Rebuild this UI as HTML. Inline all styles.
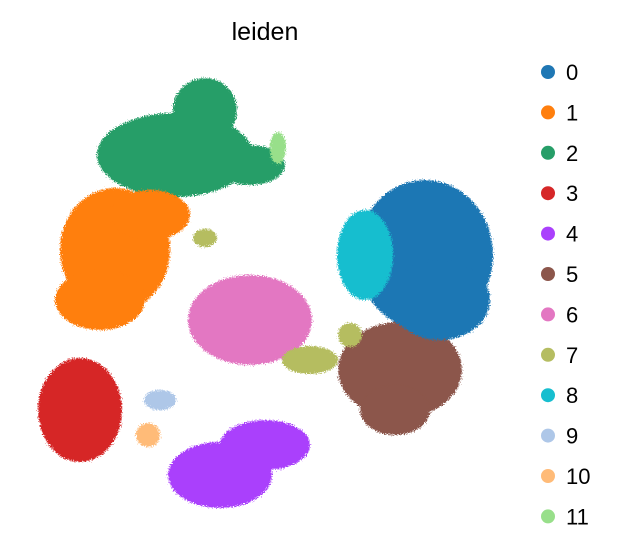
<!DOCTYPE html>
<html><head><meta charset="utf-8"><style>
body{margin:0;background:#fff;}
svg{display:block;font-family:"Liberation Sans",Arial,sans-serif;}
</style></head><body>
<svg id="chart" width="625" height="557" viewBox="0 0 625 557">
<defs>
<filter id="speckle" x="-20%" y="-20%" width="140%" height="140%">
<feTurbulence type="fractalNoise" baseFrequency="0.9" numOctaves="1" seed="3" result="n"/>
<feDisplacementMap in="SourceGraphic" in2="n" scale="8" xChannelSelector="R" yChannelSelector="G"/>
</filter>
</defs>
<text x="265" y="40" text-anchor="middle" font-size="25" fill="#000">leiden</text>
<g id="points" filter="url(#speckle)"></g>
<g id="legend"></g>
</svg>
<script>
const clusterLabels = ["0","1","2","3","4","5","6","7","8","9","10","11"];
const clusterColors = ["#1f77b4","#ff7f0e","#279e68","#d62728","#aa40fc","#8c564b","#e377c2","#b5bd61","#17becf","#aec7e8","#ffbb78","#98df8a"];
// blob cluster ids, centers (UMAP1, UMAP2), radii
const blobCluster = [5,5,0,0,8,2,2,2,11,1,1,1,3,4,4,6,7,7,7,9,10];
const blobX  = [76,75,81,84,69,31,37,46,51.6,19,16,26,12,40,49,46,58,37,66,28,25.6];
const blobY  = [34,26,57,48,57,77,86,75,78.4,58,48,65,26,13,19,44,36,60.4,41,28,21];
const blobRX = [12.4,7,13.6,10,5.6,15.6,6.4,7,1.6,11,9,8,8.4,10.4,9,12.4,5.6,2.4,2.4,3.2,2.4];
const blobRY = [9.6,5,15,8,9,8.4,6.4,4,3.2,12.4,6,5,10.4,6.6,5,9,2.8,1.8,2.4,2,2.4];
const xScale = v => 20 + v*5;
const yScale = v => 540 - v*5;
const rScale = v => v*5;
const NS="http://www.w3.org/2000/svg";
const g=document.getElementById('points');
for(let i=0;i<blobX.length;i++){
  const e=document.createElementNS(NS,'ellipse');
  e.setAttribute('cx',xScale(blobX[i]));
  e.setAttribute('cy',yScale(blobY[i]));
  e.setAttribute('rx',rScale(blobRX[i]));
  e.setAttribute('ry',rScale(blobRY[i]));
  e.setAttribute('fill',clusterColors[blobCluster[i]]);
  
  
  g.appendChild(e);
}
const lg=document.getElementById('legend');
clusterLabels.forEach((lab,i)=>{
  const y=72+i*40.4;
  const c=document.createElementNS(NS,'circle');
  c.setAttribute('cx',548);c.setAttribute('cy',y);c.setAttribute('r',7);
  c.setAttribute('fill',clusterColors[i]);
  
  
  lg.appendChild(c);
  const t=document.createElementNS(NS,'text');
  t.setAttribute('x',566);t.setAttribute('y',y+8);t.setAttribute('font-size','22');
  t.textContent=lab;
  
  
  lg.appendChild(t);
});
</script>
</body></html>
